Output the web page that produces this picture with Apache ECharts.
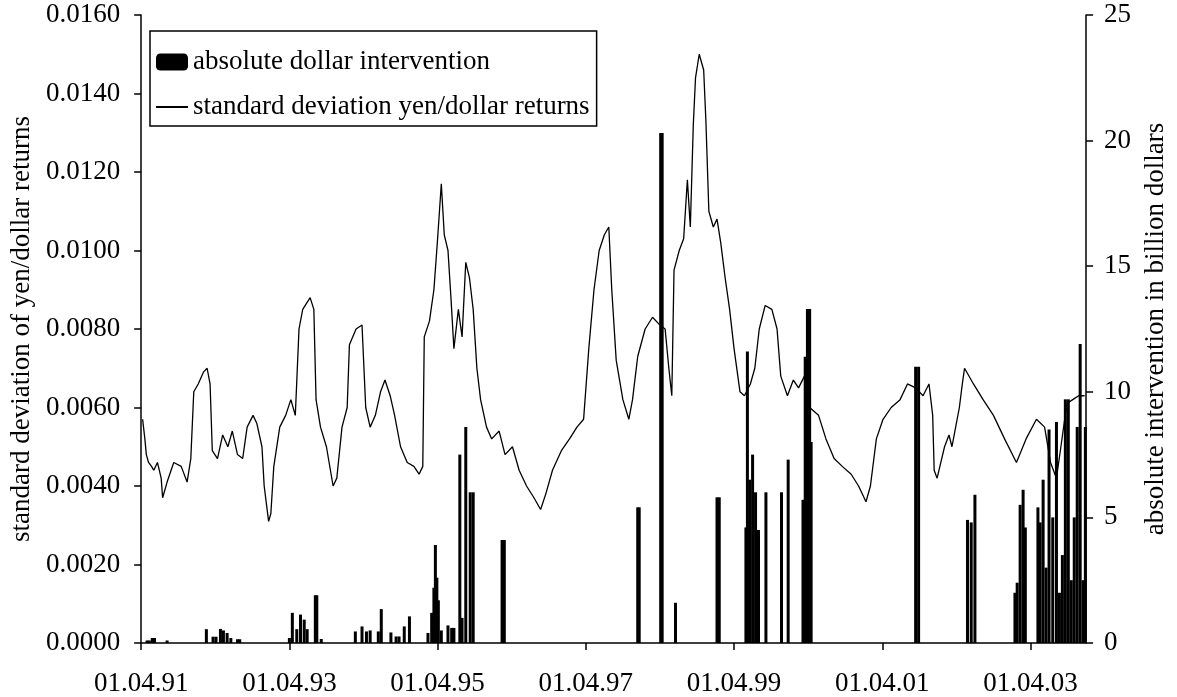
<!DOCTYPE html>
<html>
<head>
<meta charset="utf-8">
<script src="https://cdn.jsdelivr.net/npm/echarts@6/dist/echarts.min.js"></script>
<style>
  html, body { margin: 0; padding: 0; background: #fff; }
  #chart { width: 1177px; height: 697px; }
</style>
</head>
<body>
<div id="chart"></div>
<script>
// x positions are decimal years, the axis runs from 01.04.91
var startYear = 1991.25;
var tickLabels = ['01.04.91', '01.04.93', '01.04.95', '01.04.97', '01.04.99', '01.04.01', '01.04.03'];

// standard deviation of yen/dollar returns (left axis)
var stdYear = [
  1991.27, 1991.30, 1991.32, 1991.35, 1991.39, 1991.42, 1991.47, 1991.52, 1991.54, 1991.60,
  1991.69, 1991.79, 1991.87, 1991.92, 1991.96, 1992.02, 1992.09, 1992.14, 1992.18, 1992.21,
  1992.28, 1992.35, 1992.42, 1992.48, 1992.55, 1992.62, 1992.68, 1992.76, 1992.81, 1992.88,
  1992.91, 1992.97, 1993.00, 1993.04, 1993.12, 1993.20, 1993.27, 1993.33, 1993.38, 1993.43,
  1993.53, 1993.58, 1993.61, 1993.67, 1993.75, 1993.84, 1993.89, 1993.96, 1994.03, 1994.06,
  1994.15, 1994.23, 1994.28, 1994.34, 1994.41, 1994.48, 1994.54, 1994.61, 1994.67, 1994.75,
  1994.84, 1994.93, 1995.00, 1995.05, 1995.07, 1995.14, 1995.20, 1995.25, 1995.30, 1995.34,
  1995.39, 1995.43, 1995.47, 1995.53, 1995.58, 1995.63, 1995.68, 1995.73, 1995.78, 1995.83,
  1995.91, 1995.98, 1996.08, 1996.16, 1996.26, 1996.35, 1996.45, 1996.55, 1996.64, 1996.71,
  1996.80, 1996.92, 1997.03, 1997.13, 1997.22, 1997.29, 1997.36, 1997.43, 1997.50, 1997.56,
  1997.60, 1997.66, 1997.75, 1997.83, 1997.88, 1997.95, 1998.05, 1998.15, 1998.25, 1998.32,
  1998.37, 1998.41, 1998.44, 1998.51, 1998.57, 1998.62, 1998.66, 1998.70, 1998.73, 1998.78,
  1998.84, 1998.87, 1998.91, 1998.97, 1999.02, 1999.07, 1999.13, 1999.19, 1999.25, 1999.33,
  1999.39, 1999.47, 1999.53, 1999.59, 1999.67, 1999.76, 1999.83, 1999.88, 1999.97, 2000.05,
  2000.12, 2000.20, 2000.27, 2000.39, 2000.49, 2000.60, 2000.71, 2000.83, 2000.93, 2001.03,
  2001.09, 2001.17, 2001.26, 2001.37, 2001.49, 2001.59, 2001.70, 2001.80, 2001.88, 2001.93,
  2001.95, 2001.99, 2002.04, 2002.09, 2002.15, 2002.19, 2002.24, 2002.29, 2002.33, 2002.36,
  2002.48, 2002.61, 2002.75, 2002.90, 2003.06, 2003.19, 2003.33, 2003.44, 2003.52, 2003.60,
  2003.66, 2003.74, 2003.82, 2003.90, 2003.98
];
var stdValue = [
  0.0057, 0.0052, 0.0048, 0.0046, 0.0045, 0.0044, 0.0046, 0.0042, 0.0037, 0.0041,
  0.0046, 0.0045, 0.0041, 0.0047, 0.0064, 0.0066, 0.0069, 0.0070, 0.0066, 0.0049,
  0.0047, 0.0053, 0.0050, 0.0054, 0.0048, 0.0047, 0.0055, 0.0058, 0.0056, 0.0050,
  0.0040, 0.0031, 0.0033, 0.0045, 0.0055, 0.0058, 0.0062, 0.0058, 0.0080, 0.0085,
  0.0088, 0.0085, 0.0062, 0.0055, 0.0050, 0.0040, 0.0042, 0.0055, 0.0060, 0.0076,
  0.0080, 0.0081, 0.0060, 0.0055, 0.0058, 0.0064, 0.0067, 0.0063, 0.0058, 0.0050,
  0.0046, 0.0045, 0.0043, 0.0045, 0.0078, 0.0082, 0.0090, 0.0103, 0.0117, 0.0104,
  0.0100, 0.0088, 0.0075, 0.0085, 0.0078, 0.0097, 0.0093, 0.0085, 0.0070, 0.0062,
  0.0055, 0.0052, 0.0054, 0.0048, 0.0050, 0.0044, 0.0040, 0.0037, 0.0034, 0.0038,
  0.0044, 0.0049, 0.0052, 0.0055, 0.0057, 0.0075, 0.0090, 0.0100, 0.0104, 0.0106,
  0.0090, 0.0072, 0.0062, 0.0057, 0.0062, 0.0073, 0.0080, 0.0083, 0.0081, 0.0080,
  0.0070, 0.0063, 0.0095, 0.0100, 0.0103, 0.0118, 0.0106, 0.0132, 0.0144, 0.0150,
  0.0146, 0.0133, 0.0110, 0.0106, 0.0108, 0.0102, 0.0093, 0.0085, 0.0075, 0.0064,
  0.0063, 0.0066, 0.0070, 0.0080, 0.0086, 0.0085, 0.0080, 0.0068, 0.0063, 0.0067,
  0.0065, 0.0068, 0.0060, 0.0058, 0.0052, 0.0047, 0.0045, 0.0043, 0.0040, 0.0036,
  0.0040, 0.0052, 0.0057, 0.0060, 0.0062, 0.0066, 0.0065, 0.0063, 0.0066, 0.0058,
  0.0044, 0.0042, 0.0046, 0.0050, 0.0053, 0.0050, 0.0055, 0.0060, 0.0066, 0.0070,
  0.0066, 0.0062, 0.0058, 0.0052, 0.0046, 0.0052, 0.0057, 0.0055, 0.0046, 0.0042,
  0.0050, 0.0061, 0.0062, 0.0063, 0.0063
];

// absolute dollar intervention, billion dollars (right axis)
var ivYear = [
  1991.33, 1991.36, 1991.40, 1991.43, 1991.60,
  1992.13, 1992.22, 1992.26, 1992.32, 1992.36, 1992.41, 1992.46, 1992.55, 1992.58,
  1993.25, 1993.29, 1993.35, 1993.40, 1993.45, 1993.49, 1993.60, 1993.62, 1993.68,
  1994.14, 1994.23, 1994.29, 1994.34, 1994.45, 1994.49, 1994.62, 1994.69, 1994.73, 1994.80, 1994.87,
  1995.12, 1995.17, 1995.20, 1995.22, 1995.24, 1995.26, 1995.30,
  1995.39, 1995.44, 1995.47, 1995.55, 1995.58, 1995.63, 1995.69, 1995.73,
  1996.12, 1996.15, 1997.95, 1997.97, 1998.26, 1998.28, 1998.46, 1999.02, 1999.05,
  1999.41, 1999.43, 1999.46, 1999.50, 1999.54, 1999.58, 1999.68,
  1999.89, 1999.98, 2000.18, 2000.21, 2000.24, 2000.27, 2000.29,
  2001.70, 2001.74, 2002.40, 2002.45, 2002.50,
  2003.04, 2003.07, 2003.11, 2003.15, 2003.18,
  2003.35, 2003.38, 2003.42, 2003.46, 2003.50, 2003.55, 2003.60, 2003.64, 2003.68, 2003.72,
  2003.76, 2003.80, 2003.84, 2003.88, 2003.92, 2003.96, 2003.99
];
var ivValue = [
  0.1, 0.1, 0.2, 0.2, 0.1,
  0.55, 0.25, 0.25, 0.56, 0.5, 0.4, 0.2, 0.15, 0.15,
  0.2, 1.2, 0.55, 1.13, 0.93, 0.55, 1.9, 1.9, 0.16,
  0.46, 0.66, 0.46, 0.5, 0.46, 1.35, 0.42, 0.26, 0.26, 0.66, 1.06,
  0.4, 1.2, 2.2, 3.9, 2.6, 1.7, 0.5,
  0.7, 0.6, 0.6, 7.5, 1.0, 8.6, 6.0, 6.0,
  4.1, 4.1, 5.4, 5.4, 20.3, 20.3, 1.6, 5.8, 5.8,
  4.6, 11.6, 6.5, 7.5, 6.0, 4.5, 6.0,
  6.0, 7.3, 5.7, 11.4, 13.3, 13.3, 8.0,
  11.0, 11.0, 4.9, 4.8, 5.9,
  2.0, 2.4, 5.5, 6.1, 4.6,
  5.4, 4.8, 6.5, 3.0, 8.5, 5.0, 8.8, 2.0, 3.5, 9.7,
  9.7, 2.5, 5.0, 8.6, 11.9, 2.5, 8.6
];

var font = 'Liberation Serif';

var stdData = [];
for (var i = 0; i < stdYear.length; i++) {
  stdData.push([stdYear[i] - startYear, stdValue[i]]);
}
var ivData = [];
for (var j = 0; j < ivYear.length; j++) {
  ivData.push([ivYear[j] - startYear, ivValue[j]]);
}

var axisLine = { show: true, lineStyle: { color: '#000', width: 1.5 } };
var axisTick = { show: true, inside: false, length: 7, lineStyle: { color: '#000', width: 1.5 } };

var myChart = echarts.init(document.getElementById('chart'));
myChart.setOption({
  animation: false,
  backgroundColor: '#fff',
  textStyle: { fontFamily: font },
  grid: { left: 121, right: 83, top: 15, bottom: 53 },
  legend: {
    orient: 'vertical',
    left: 150,
    top: 31,
    padding: [16, 7, 4, 5],
    itemGap: 15,
    itemWidth: 32,
    itemHeight: 17,
    borderColor: '#000',
    borderWidth: 1.5,
    textStyle: { fontFamily: font, fontSize: 27, color: '#000', lineHeight: 30 },
    data: [
      { name: 'absolute dollar intervention', icon: 'roundRect' },
      { name: 'standard deviation yen/dollar returns', itemStyle: { color: 'rgba(0,0,0,0)', opacity: 0 } }
    ]
  },
  xAxis: {
    type: 'value',
    min: 0,
    max: 12.75,
    axisLine: axisLine,
    axisTick: { show: true, length: 7, lineStyle: { color: '#000', width: 1.5 }, customValues: [0, 2, 4, 6, 8, 10, 12] },
    splitLine: { show: false },
    axisLabel: {
      customValues: [0, 2, 4, 6, 8, 10, 12],
      margin: 27,
      fontFamily: font,
      fontSize: 27,
      color: '#000',
      formatter: function (v) { return tickLabels[Math.round(v / 2)]; }
    }
  },
  yAxis: [
    {
      type: 'value',
      position: 'left',
      min: 0,
      max: 0.016,
      interval: 0.002,
      name: 'standard deviation of yen/dollar returns',
      nameLocation: 'middle',
      nameRotate: 90,
      nameGap: 90,
      nameTextStyle: { fontFamily: font, fontSize: 27, color: '#000' },
      axisLine: axisLine,
      axisTick: axisTick,
      splitLine: { show: false },
      axisLabel: {
        margin: 21,
        fontFamily: font,
        fontSize: 27,
        color: '#000',
        formatter: function (v) { return v.toFixed(4); }
      }
    },
    {
      type: 'value',
      position: 'right',
      min: 0,
      max: 25,
      interval: 5,
      name: 'absolute intervention in billion dollars',
      nameLocation: 'middle',
      nameRotate: 90,
      nameGap: 55,
      nameTextStyle: { fontFamily: font, fontSize: 27, color: '#000' },
      axisLine: axisLine,
      axisTick: axisTick,
      splitLine: { show: false },
      axisLabel: { margin: 18, fontFamily: font, fontSize: 27, color: '#000' }
    }
  ],
  series: [
    {
      name: 'absolute dollar intervention',
      type: 'bar',
      yAxisIndex: 1,
      barWidth: 3,
      itemStyle: { color: '#000' },
      data: ivData
    },
    {
      name: 'standard deviation yen/dollar returns',
      type: 'line',
      yAxisIndex: 0,
      symbol: 'none',
      showSymbol: false,
      lineStyle: { color: '#000', width: 1.3 },
      itemStyle: { color: '#000' },
      data: stdData
    }
  ]
});
</script>
</body>
</html>
